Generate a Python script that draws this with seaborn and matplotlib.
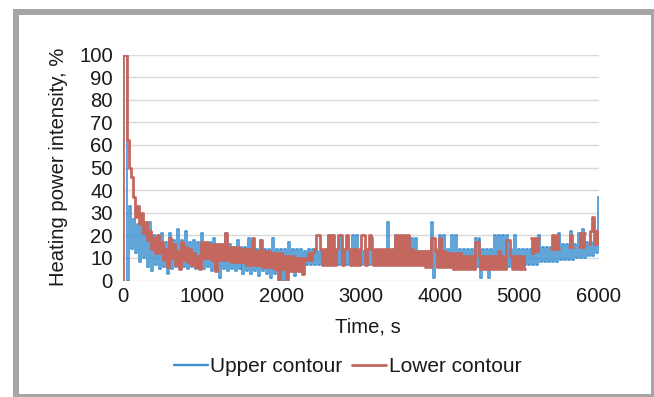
import matplotlib
matplotlib.use("Agg")
import matplotlib.pyplot as plt
import pandas as pd
import seaborn as sns
from matplotlib.patches import Rectangle

# ---------------- data (25 s sampling) ----------------
time_step_s = 25
series_names = ["Upper contour", "Lower contour"]

upper_contour = [
    100, 100, 100, 0, 33, 14, 27, 12, 25, 8, 28, 10, 22, 6, 26, 4, 20, 7, 19, 5,
    21, 6, 17, 3, 21, 5, 18, 6, 23, 5, 18, 6, 22, 5, 17, 6, 18, 5, 17, 6,
    21, 5, 16, 6, 17, 4, 19, 5, 16, 1, 16, 5, 21, 4, 16, 5, 15, 4, 18, 5,
    15, 3, 15, 4, 19, 3, 15, 4, 14, 2, 18, 4, 14, 3, 14, 1, 19, 3, 14, 4,
    14, 0, 14, 3, 17, 4, 14, 2, 14, 5, 14, 7, 13, 7, 14, 7, 14, 7, 13, 7,
    13, 7, 13, 7, 20, 7, 20, 7, 13, 7, 20, 7, 13, 7, 13, 7, 20, 7, 20, 7,
    13, 7, 13, 7, 13, 7, 19, 7, 13, 7, 13, 7, 13, 7, 26, 7, 13, 7, 20, 7,
    13, 7, 13, 7, 13, 7, 19, 7, 19, 7, 13, 7, 13, 7, 13, 7, 26, 1, 14, 6,
    20, 6, 20, 6, 14, 6, 20, 6, 20, 6, 14, 6, 14, 6, 14, 6, 14, 6, 19, 6,
    19, 1, 14, 6, 14, 1, 14, 6, 20, 6, 20, 6, 20, 6, 20, 6, 14, 6, 20, 6,
    14, 7, 14, 7, 14, 7, 14, 7, 15, 7, 20, 8, 15, 8, 15, 8, 15, 8, 15, 8,
    21, 9, 16, 9, 16, 9, 22, 9, 16, 10, 21, 10, 23, 10, 17, 11, 17, 11, 18, 12,
    37,
]

lower_contour = [
    0, 100, 100, 62, 50, 46, 37, 28, 33, 25, 30, 21, 26, 18, 22, 14, 19, 12, 20, 12,
    17, 9, 14, 6, 19, 10, 16, 7, 13, 5, 17, 9, 15, 8, 14, 7, 12, 6, 11, 5,
    17, 10, 17, 10, 16, 9, 16, 4, 16, 9, 16, 9, 21, 9, 15, 8, 15, 8, 15, 8,
    14, 8, 14, 7, 14, 7, 19, 7, 13, 7, 18, 6, 13, 6, 13, 6, 12, 5, 12, 0,
    12, 5, 11, 0, 11, 4, 11, 4, 10, 4, 10, 3, 10, 9, 12, 9, 12, 14, 20, 20,
    14, 7, 14, 7, 20, 7, 20, 7, 14, 20, 20, 7, 14, 20, 14, 7, 14, 7, 14, 7,
    14, 20, 20, 7, 14, 20, 14, 7, 14, 7, 14, 7, 14, 7, 14, 7, 14, 7, 20, 7,
    20, 7, 20, 7, 20, 7, 14, 7, 13, 7, 13, 7, 13, 6, 13, 6, 19, 19, 13, 6,
    19, 6, 13, 6, 12, 6, 12, 5, 12, 5, 12, 5, 11, 5, 11, 5, 11, 5, 17, 17,
    11, 5, 11, 5, 11, 5, 11, 5, 11, 5, 13, 5, 11, 5, 18, 18, 11, 5, 11, 5,
    11, 5, 11, 5, None, None, 19, 12, 19, 13, 19, None, None, None, None, None, 14, 20, 14, 20,
    14, None, None, None, None, 15, 20, 15, None, None, 15, 21, 15, 21, None, 16, 22, 28, 16, 22,
    16,
]

x_ticks = [0, 1000, 2000, 3000, 4000, 5000, 6000]
y_ticks = [0, 10, 20, 30, 40, 50, 60, 70, 80, 90, 100]

colors = {"Upper contour": "#3b8fd0", "Lower contour": "#c3675f"}
widths = {"Upper contour": 1.15, "Lower contour": 2.0}

# ---------------- build long table (NaN breaks the line into pieces) ----------
rows = []
for name, vals in zip(series_names, [upper_contour, lower_contour]):
    seg = 0
    for i, v in enumerate(vals):
        if v is None:
            seg += 1
            continue
        rows.append({"time": i * time_step_s, "value": v, "series": name,
                     "seg": f"{name}-{seg}"})
df = pd.DataFrame(rows)

# ---------------- figure ----------------
sns.set_theme(style="white")
plt.rcParams["font.family"] = ["Liberation Sans", "DejaVu Sans"]
text_color = "#1a1a1a"
fs = 14.6

W, H = 654, 397
fig = plt.figure(figsize=(W / 100, H / 100), dpi=100)
ax = fig.add_axes([122.5 / W, 1 - 280.5 / H, 476 / W, 226 / H])

sns.lineplot(data=df, x="time", y="value", hue="series", size="series",
             hue_order=series_names, size_order=series_names,
             palette=colors, sizes=widths, units="seg", estimator=None,
             sort=False, ax=ax, legend=True, drawstyle="steps-mid")

ax.set_xlim(0, 6000)
ax.set_ylim(0, 100)
ax.set_xticks(x_ticks)
ax.set_yticks(y_ticks)
ax.set_xticklabels([str(t) for t in x_ticks], fontsize=fs, color=text_color)
ax.set_yticklabels([str(t) for t in y_ticks], fontsize=fs, color=text_color)
ax.tick_params(axis="both", length=0)
ax.tick_params(axis="y", pad=7)
ax.tick_params(axis="x", pad=5)
ax.yaxis.grid(True, color="#d9d9d9", linewidth=1.0)
ax.xaxis.grid(False)
ax.set_axisbelow(True)
for s in ax.spines.values():
    s.set_visible(False)
ax.set_xlabel("")
ax.set_ylabel("")

fig.text(368 / W, 1 - 327 / H, "Time, s", ha="center", va="center",
         fontsize=fs, color=text_color)
fig.text(59 / W, 1 - 167 / H, "Heating power intensity, %", ha="center",
         va="center", rotation=90, fontsize=fs, color=text_color)

handles, labels = ax.get_legend_handles_labels()
ax.get_legend().remove()
pairs = [(h, l) for h, l in zip(handles, labels) if l in series_names]
hs = [p[0] for p in pairs]
ls = [p[1] for p in pairs]
for h, l in zip(hs, ls):
    h.set_linewidth(1.7 if l == "Upper contour" else 2.0)
    h.set_drawstyle("default")
fig.legend(hs, ls, loc="center", bbox_to_anchor=(347.5 / W, 1 - 367 / H),
           ncol=2, frameon=False, fontsize=15, handlelength=1.65,
           handletextpad=0.12, columnspacing=0.45, labelcolor=text_color)

# outer grey frame
fig.add_artist(Rectangle((16 / W, 0), (653.5 - 16) / W, (H - 12) / H,
                         transform=fig.transFigure, fill=False,
                         edgecolor="#a6a6a6", linewidth=6 * 0.72))

fig.savefig("out.png", dpi=100)
